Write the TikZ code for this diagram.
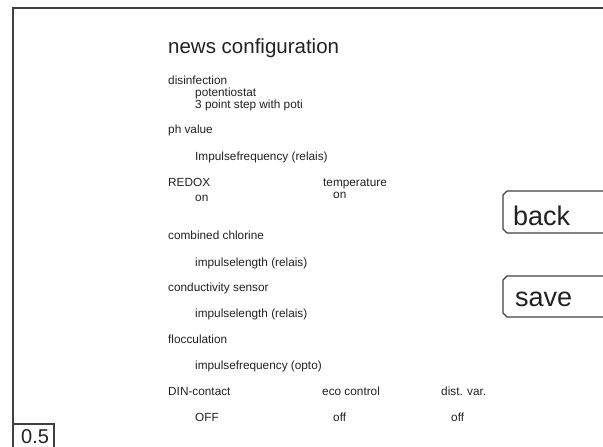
\documentclass[tikz,border=0pt]{standalone}
\usepackage{fontspec}
\setmainfont{Liberation Sans}
\usepackage{xcolor}
\definecolor{ink}{gray}{0.13}
\definecolor{rim}{gray}{0.25}
\tikzset{
    lbl/.style={anchor=base west,inner sep=0pt,text=ink,
        font=\fontsize{11.8}{12}\selectfont},
    head/.style={lbl,font=\fontsize{20.5}{22}\selectfont},
    btntext/.style={lbl,font=\fontsize{27}{28}\selectfont},
    rimline/.style={draw=rim,line width=1.3pt},
}
\newcommand{\button}[3] {
    \draw[rimline] (603,#2) -- (507,#2) -- (503,{#2+4})
        -- (503,{#3-4}) -- (507,#3) -- (603,#3);
}

\begin{document}
\begin{tikzpicture}[x=1pt,y=-1pt]
    \useasboundingbox (0,0) rectangle (603,447);
    \draw[rimline] (13,447) -- (13,8) -- (603,8);
    \node[head] (title) at (168,53) {news configuration};
    \foreach \name/\x/\y/\txt in {
        disinf/168/84/disinfection,
        potstat/195/96/potentiostat,
        threept/195/108/3 point step with poti,
        ph/168/133/ph value,
        phmode/195/160/Impulsefrequency (relais),
        redox/168/186/REDOX,
        redoxon/195/201/on,
        temp/323/186/temperature,
        tempon/333/198/on,
        combcl/168/239/combined chlorine,
        combmode/195/266/impulselength (relais),
        cond/168/291/conductivity sensor,
        condmode/195/317/impulselength (relais),
        floc/168/343/flocculation,
        flocmode/195/369/impulsefrequency (opto),
        din/168/395/DIN-contact,
        eco/322/395/eco control,
        dist/441/395/dist. var.,
        dinval/195/421/OFF,
        ecoval/333/421/off,
        distval/451/421/off}
        \node[lbl] (\name) at (\x,\y) {\txt};
    \button{back}{191}{233}
    \node[btntext] (back) at (513,225) {back};
    \button{save}{276}{317}
    \node[btntext] (save) at (515,306) {save};
    \draw[rimline] (13,447) -- (13,424) -- (54,424) -- (54,447);
    \node[lbl,font=\fontsize{20}{21}\selectfont] (zoomval) at (21,443) {0.5};
\end{tikzpicture}
\end{document}
